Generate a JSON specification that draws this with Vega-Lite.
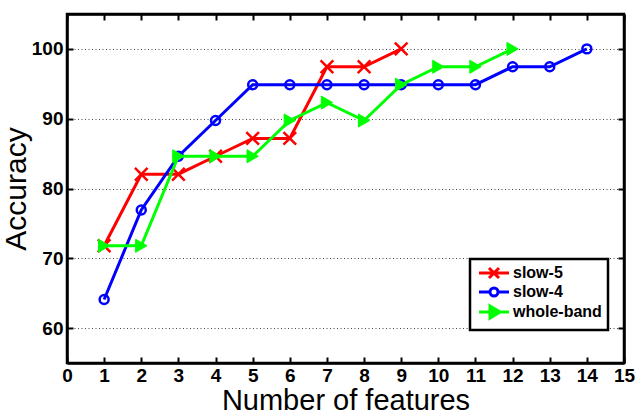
{
  "$schema": "https://vega.github.io/schema/vega-lite/v6.json",
  "autosize": "none",
  "width": 557,
  "height": 349,
  "padding": {"left": 67, "top": 14, "right": 11, "bottom": 52},
  "background": "white",
  "data": {"values": [
    {"series": "slow-5", "n": 1, "acc": 71.79},
    {"series": "slow-5", "n": 2, "acc": 82.05},
    {"series": "slow-5", "n": 3, "acc": 82.05},
    {"series": "slow-5", "n": 4, "acc": 84.62},
    {"series": "slow-5", "n": 5, "acc": 87.18},
    {"series": "slow-5", "n": 6, "acc": 87.18},
    {"series": "slow-5", "n": 7, "acc": 97.44},
    {"series": "slow-5", "n": 8, "acc": 97.44},
    {"series": "slow-5", "n": 9, "acc": 100},
    {"series": "slow-4", "n": 1, "acc": 64.10},
    {"series": "slow-4", "n": 2, "acc": 76.92},
    {"series": "slow-4", "n": 3, "acc": 84.62},
    {"series": "slow-4", "n": 4, "acc": 89.74},
    {"series": "slow-4", "n": 5, "acc": 94.87},
    {"series": "slow-4", "n": 6, "acc": 94.87},
    {"series": "slow-4", "n": 7, "acc": 94.87},
    {"series": "slow-4", "n": 8, "acc": 94.87},
    {"series": "slow-4", "n": 9, "acc": 94.87},
    {"series": "slow-4", "n": 10, "acc": 94.87},
    {"series": "slow-4", "n": 11, "acc": 94.87},
    {"series": "slow-4", "n": 12, "acc": 97.44},
    {"series": "slow-4", "n": 13, "acc": 97.44},
    {"series": "slow-4", "n": 14, "acc": 100},
    {"series": "whole-band", "n": 1, "acc": 71.79},
    {"series": "whole-band", "n": 2, "acc": 71.79},
    {"series": "whole-band", "n": 3, "acc": 84.62},
    {"series": "whole-band", "n": 4, "acc": 84.62},
    {"series": "whole-band", "n": 5, "acc": 84.62},
    {"series": "whole-band", "n": 6, "acc": 89.74},
    {"series": "whole-band", "n": 7, "acc": 92.31},
    {"series": "whole-band", "n": 8, "acc": 89.74},
    {"series": "whole-band", "n": 9, "acc": 94.87},
    {"series": "whole-band", "n": 10, "acc": 97.44},
    {"series": "whole-band", "n": 11, "acc": 97.44},
    {"series": "whole-band", "n": 12, "acc": 100}
  ]},
  "resolve": {"axis": {"x": "independent", "y": "independent"}},
  "layer": [
    {
      "transform": [{"filter": {"field": "series", "equal": "slow-5"}}],
      "mark": {"type": "line", "strokeWidth": 3,
        "point": {"filled": false, "shape": "M-1,-1L1,1M-1,1L1,-1", "size": 160, "strokeWidth": 2.5}},
      "encoding": {
        "x": {"field": "n", "type": "quantitative",
          "scale": {"domain": [0, 15], "nice": false, "zero": false},
          "axis": {"orient": "bottom", "values": [0,1,2,3,4,5,6,7,8,9,10,11,12,13,14,15],
            "title": "Number of features", "grid": false, "labelFlush": false, "labelPadding": 9,
            "titleFontSize": 29, "titlePadding": 1}},
        "y": {"field": "acc", "type": "quantitative",
          "scale": {"domain": [55, 105], "nice": false, "zero": false},
          "axis": {"orient": "left", "values": [60,70,80,90,100], "title": "Accuracy", "grid": true,
            "labelPadding": 10, "titleFontSize": 30, "titlePadding": 0}},
        "color": {"field": "series", "type": "nominal",
          "scale": {"domain": ["slow-5", "slow-4", "whole-band"], "range": ["#ff0000", "#0000ff", "#00ff00"]},
          "legend": {
            "orient": "none", "legendX": 403, "legendY": 245, "title": null,
            "fillColor": "white", "strokeColor": "black",
            "padding": 6, "rowPadding": -2,
            "labelFont": "Liberation Sans", "labelFontSize": 16, "labelFontWeight": "bold", "labelColor": "black",
            "symbolSize": 100, "symbolOffset": 10, "labelOffset": 11, "symbolStrokeWidth": 3,
            "encode": {
              "legend": {"update": {"strokeWidth": {"value": 2.5}}},
              "symbols": {"update": {
                "shape": {"signal": "datum.value === 'slow-5' ? 'M-3,0H3M-1,-1L1,1M-1,1L1,-1' : datum.value === 'slow-4' ? 'M-3,0H-0.8M0.8,0H3M-0.8,0A0.8,0.8 0 1,0 0.8,0A0.8,0.8 0 1,0 -0.8,0' : 'M-3,0H3M-0.8,-1.2L1.2,0L-0.8,1.2Z'"},
                "fill": {"signal": "datum.value === 'whole-band' ? '#00ff00' : 'transparent'"},
                "stroke": {"signal": "datum.value === 'slow-5' ? '#ff0000' : datum.value === 'slow-4' ? '#0000ff' : '#00ff00'"},
                "strokeWidth": {"value": 3},
                "size": {"value": 100}
              }}
            }
          }}
      }
    },
    {
      "transform": [{"filter": {"field": "series", "equal": "slow-4"}}],
      "mark": {"type": "line", "strokeWidth": 3,
        "point": {"filled": false, "shape": "circle", "size": 80, "strokeWidth": 2.5}},
      "encoding": {
        "x": {"field": "n", "type": "quantitative",
          "axis": {"orient": "top", "values": [0,1,2,3,4,5,6,7,8,9,10,11,12,13,14,15],
            "labels": false, "title": null, "grid": false}},
        "y": {"field": "acc", "type": "quantitative",
          "axis": {"orient": "right", "values": [60,70,80,90,100], "labels": false, "title": null, "grid": false}},
        "color": {"field": "series", "type": "nominal"}
      }
    },
    {
      "transform": [{"filter": {"field": "series", "equal": "whole-band"}}],
      "mark": {"type": "line", "strokeWidth": 3,
        "point": {"filled": false, "fill": "#00ff00", "shape": "triangle-right", "size": 170, "strokeWidth": 1}},
      "encoding": {
        "x": {"field": "n", "type": "quantitative", "axis": null},
        "y": {"field": "acc", "type": "quantitative", "axis": null},
        "color": {"field": "series", "type": "nominal"}
      }
    }
  ],
  "config": {
    "view": {"stroke": "black", "strokeWidth": 2.5},
    "axis": {
      "domainColor": "black", "domainWidth": 2.5,
      "tickColor": "black", "tickWidth": 2, "tickSize": -6,
      "labelFont": "Liberation Sans", "labelFontSize": 19, "labelFontWeight": "bold", "labelColor": "black",
      "titleFont": "Liberation Sans", "titleFontWeight": "normal", "titleColor": "black",
      "gridColor": "#444", "gridDash": [1, 2.5], "gridWidth": 1, "gridOpacity": 1
    }
  }
}
